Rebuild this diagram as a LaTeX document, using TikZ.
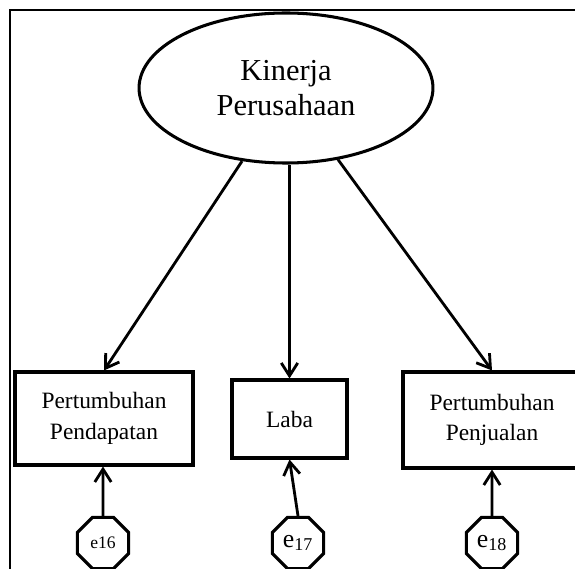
\documentclass[tikz,border=0pt]{standalone}
\usepackage{fontspec}
\setmainfont{Liberation Serif}
\usetikzlibrary{shapes.geometric,arrows.meta,calc}

\begin{document}
\begin{tikzpicture}[x=0.03cm,y=-0.03cm,
  latent/.style={draw,ellipse,line width=2.6pt,minimum width=7.95cm,
                 minimum height=4.5cm,align=center,
                 font=\fontsize{26}{30}\selectfont},
  ind/.style={draw,rectangle,line width=2.6pt,align=center,
              font=\fontsize{20}{26}\selectfont},
  err/.style={draw,regular polygon,regular polygon sides=8,
              line width=2.6pt,minimum size=1.66cm,inner sep=0pt},
  arr/.style={-{Straight Barb[length=11pt,width=14pt]},line width=2.4pt}
]
\useasboundingbox (0,0) rectangle (575,569);
\clip (0,0) rectangle (575,569);
% Rahmen
\draw[line width=1.2pt] (10,10) rectangle (620,620);

% Variabel laten
\node[latent] (kp) at (286,88) {\raisebox{-5pt}{\parbox{6cm}{\centering Kinerja\\Perusahaan}}};

% Indikator
\node[ind,minimum width=5.34cm,minimum height=2.79cm] (pp) at (104,418.5)
  {Pertumbuhan\\Pendapatan};
\node[ind,minimum width=3.45cm,minimum height=2.34cm] (lb) at (289.5,419)
  {Laba};
\node[ind,minimum width=5.34cm,minimum height=2.88cm] (pj) at (492,420)
  {Pertumbuhan\\Penjualan};

% Error
\node[err,font=\fontsize{15}{15}\selectfont] (e16) at (103,543) {e16};
\node[err,font=\fontsize{22}{22}\selectfont] (e17) at (298,543) {e\textsubscript{17}};
\node[err,font=\fontsize{22}{22}\selectfont] (e18) at (492,543) {e\textsubscript{18}};

% Panah
\draw[arr] (kp.239) -- (pp.north);
\draw[arr] (kp.south -| lb.north) -- (lb.north);
\draw[arr] (kp.306) -- (pj.north);
\draw[arr] (e16.north) -- (e16 |- pp.south);
\draw[arr] (e17.north) -- (lb.south);
\draw[arr] (e18.north) -- (e18 |- pj.south);
\end{tikzpicture}
\end{document}
